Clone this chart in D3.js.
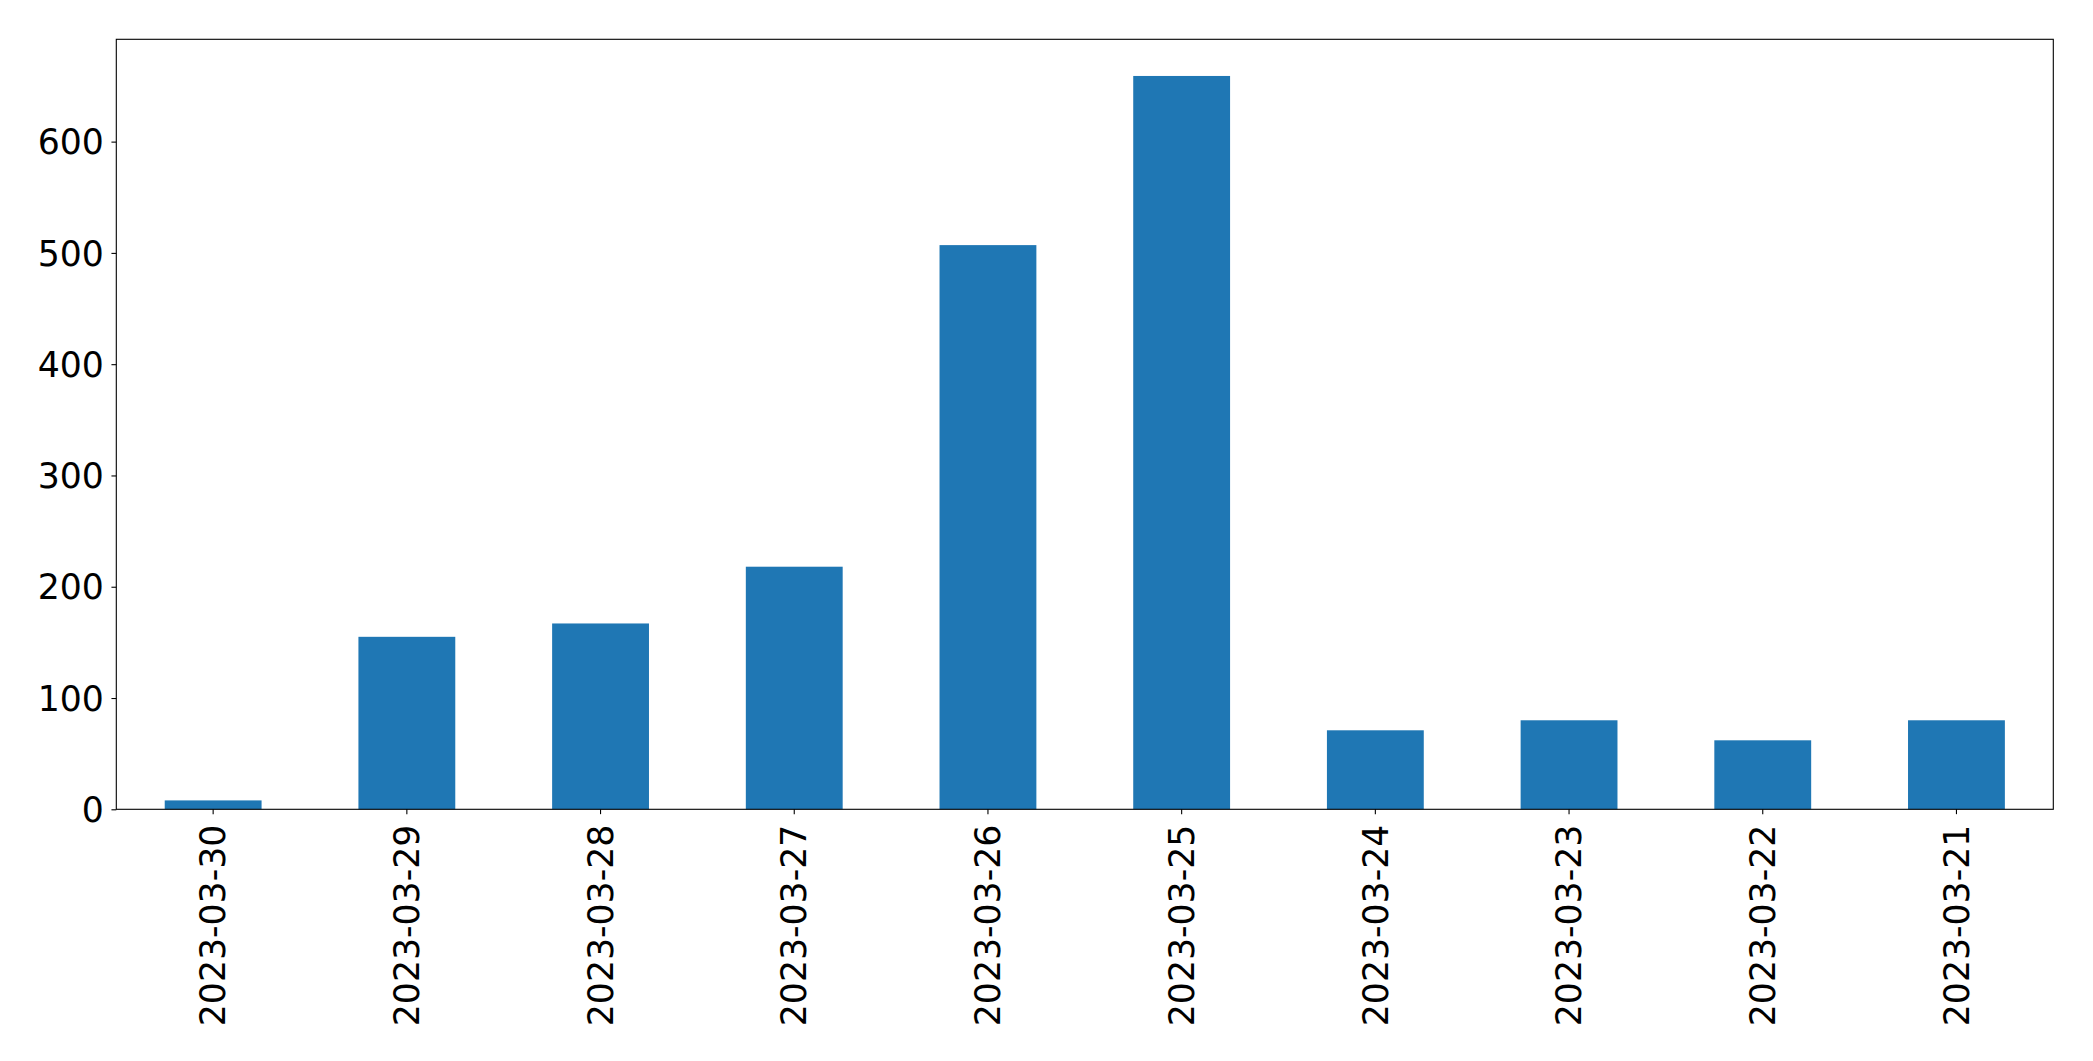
<!DOCTYPE html>
<html>
<head>
<meta charset="utf-8">
<script src="https://cdn.jsdelivr.net/npm/d3@7"></script>
<style>
  html, body { margin: 0; padding: 0; background: #fff; }
  svg { display: block; }
  text { font-family: "DejaVu Sans", sans-serif; }
</style>
</head>
<body>
<svg id="chart" width="2093" height="1061"></svg>
<script>
const categories = ["2023-03-30","2023-03-29","2023-03-28","2023-03-27","2023-03-26","2023-03-25","2023-03-24","2023-03-23","2023-03-22","2023-03-21"];
const values = [8, 155, 167, 218, 507, 659, 71, 80, 62, 80];
const yTicks = [0, 100, 200, 300, 400, 500, 600];

const W = 2093, H = 1061;
const margin = { left: 116.3, top: 39.3, right: W - 2053.3, bottom: H - 809.3 };
const iw = W - margin.left - margin.right;
const ih = H - margin.top - margin.bottom;
const fontSize = 34.7;
const tickLen = 4.86;
const yPad = 7.5;
const xPad = 10.5;

const svg = d3.select("#chart");
const g = svg.append("g").attr("transform", `translate(${margin.left},${margin.top})`);

const x = d3.scaleBand().domain(categories).range([0, iw]).paddingInner(0.5).paddingOuter(0.25);
const y = d3.scaleLinear().domain([0, d3.max(values) * 1.05]).range([ih, 0]);

g.selectAll("rect.bar").data(values).enter().append("rect")
  .attr("class", "bar")
  .attr("x", (d, i) => x(categories[i]))
  .attr("y", d => y(d))
  .attr("width", x.bandwidth())
  .attr("height", d => ih - y(d))
  .attr("fill", "#1f77b4");

// Y axis
const yAxis = d3.axisLeft(y).tickValues(yTicks).tickSize(tickLen).tickPadding(yPad).tickFormat(d3.format("d"));
const ya = g.append("g").call(yAxis);
ya.select(".domain").remove();
ya.selectAll(".tick line").attr("stroke", "#000").attr("stroke-width", 1.1);
ya.selectAll(".tick text").attr("font-size", fontSize).attr("fill", "#000")
  .attr("font-family", "DejaVu Sans").attr("dy", "0.35em");

// X axis
const xAxis = d3.axisBottom(x).tickSize(tickLen).tickPadding(xPad);
const xa = g.append("g").attr("transform", `translate(0,${ih})`).call(xAxis);
xa.select(".domain").remove();
xa.selectAll(".tick line").attr("stroke", "#000").attr("stroke-width", 1.1);
xa.selectAll(".tick text")
  .attr("font-size", fontSize).attr("fill", "#000").attr("font-family", "DejaVu Sans")
  .attr("text-anchor", "end")
  .attr("dy", "0.35em")
  .attr("y", 0)
  .attr("transform", `translate(0,${tickLen + xPad}) rotate(-90)`);

// Frame
g.append("rect").attr("x", 0).attr("y", 0).attr("width", iw).attr("height", ih)
  .attr("fill", "none").attr("stroke", "#000").attr("stroke-width", 1.1);
</script>
</body>
</html>
